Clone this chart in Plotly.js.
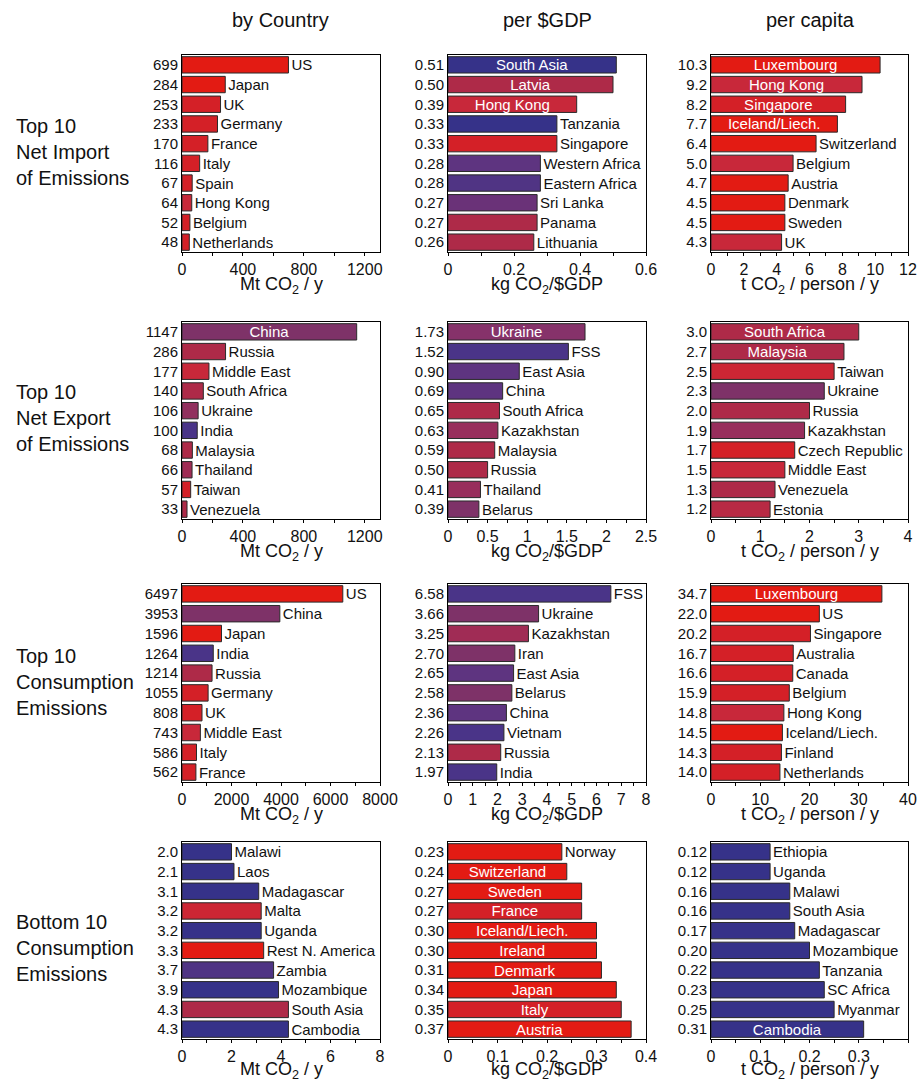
<!DOCTYPE html>
<html>
<head>
<meta charset="utf-8">
<script src="https://cdn.plot.ly/plotly-3.0.1.min.js"></script>
<style>html,body{margin:0;padding:0;background:#fff;}#chart{width:918px;height:1083px;}</style>
</head>
<body>
<div id="chart"></div>
<script>
// ---------------- DATA ----------------
const colTitles = ["by Country", "per $GDP", "per capita"];
const rowTitles = ["Top 10<br>Net Import<br>of Emissions", "Top 10<br>Net Export<br>of Emissions", "Top 10<br>Consumption<br>Emissions", "Bottom 10<br>Consumption<br>Emissions"];
const axisTitles = ["Mt CO<sub>2</sub> / y", "kg CO<sub>2</sub>/$GDP", "t CO<sub>2</sub> / person / y"];

const impCountryNames = ["US","Japan","UK","Germany","France","Italy","Spain","Hong Kong","Belgium","Netherlands"];
const impCountryVals  = [699,284,253,233,170,116,67,64,52,48];
const impGdpNames = ["South Asia","Latvia","Hong Kong","Tanzania","Singapore","Western Africa","Eastern Africa","Sri Lanka","Panama","Lithuania"];
const impGdpVals  = [0.51,0.50,0.39,0.33,0.33,0.28,0.28,0.27,0.27,0.26];
const impCapitaNames = ["Luxembourg","Hong Kong","Singapore","Iceland/Liech.","Switzerland","Belgium","Austria","Denmark","Sweden","UK"];
const impCapitaVals  = [10.3,9.2,8.2,7.7,6.4,5.0,4.7,4.5,4.5,4.3];

const expCountryNames = ["China","Russia","Middle East","South Africa","Ukraine","India","Malaysia","Thailand","Taiwan","Venezuela"];
const expCountryVals  = [1147,286,177,140,106,100,68,66,57,33];
const expGdpNames = ["Ukraine","FSS","East Asia","China","South Africa","Kazakhstan","Malaysia","Russia","Thailand","Belarus"];
const expGdpVals  = [1.73,1.52,0.90,0.69,0.65,0.63,0.59,0.50,0.41,0.39];
const expCapitaNames = ["South Africa","Malaysia","Taiwan","Ukraine","Russia","Kazakhstan","Czech Republic","Middle East","Venezuela","Estonia"];
const expCapitaVals  = [3.0,2.7,2.5,2.3,2.0,1.9,1.7,1.5,1.3,1.2];

const conCountryNames = ["US","China","Japan","India","Russia","Germany","UK","Middle East","Italy","France"];
const conCountryVals  = [6497,3953,1596,1264,1214,1055,808,743,586,562];
const conGdpNames = ["FSS","Ukraine","Kazakhstan","Iran","East Asia","Belarus","China","Vietnam","Russia","India"];
const conGdpVals  = [6.58,3.66,3.25,2.70,2.65,2.58,2.36,2.26,2.13,1.97];
const conCapitaNames = ["Luxembourg","US","Singapore","Australia","Canada","Belgium","Hong Kong","Iceland/Liech.","Finland","Netherlands"];
const conCapitaVals  = [34.7,22.0,20.2,16.7,16.6,15.9,14.8,14.5,14.3,14.0];

const botCountryNames = ["Malawi","Laos","Madagascar","Malta","Uganda","Rest N. America","Zambia","Mozambique","South Asia","Cambodia"];
const botCountryVals  = [2.0,2.1,3.1,3.2,3.2,3.3,3.7,3.9,4.3,4.3];
const botGdpNames = ["Norway","Switzerland","Sweden","France","Iceland/Liech.","Ireland","Denmark","Japan","Italy","Austria"];
const botGdpVals  = [0.23,0.24,0.27,0.27,0.30,0.30,0.31,0.34,0.35,0.37];
const botCapitaNames = ["Ethiopia","Uganda","Malawi","South Asia","Madagascar","Mozambique","Tanzania","SC Africa","Myanmar","Cambodia"];
const botCapitaVals  = [0.12,0.12,0.16,0.16,0.17,0.20,0.22,0.23,0.25,0.31];

// ---------------- STYLE ----------------
const RED='#e31b13', RED2='#d42027', CRIM='#c8283a', ROSE='#ae2a48', MAUVE='#982e5c',
      PLUM='#7e3268', PURP='#5e3480', INDIGO='#4a3488', BLUE='#363289';

const panels = [
  {names:impCountryNames, vals:impCountryVals, dec:0, range:[0,1300], dtick:400, minor:200,
   colors:[RED,RED,RED2,RED2,RED2,RED2,RED2,CRIM,RED2,RED2], inside:[]},
  {names:impGdpNames, vals:impGdpVals, dec:2, range:[0,0.6], dtick:0.2, minor:0.1,
   colors:[BLUE,ROSE,CRIM,BLUE,RED2,PURP,'#503484','#6a3278',ROSE,ROSE], inside:["South Asia","Latvia","Hong Kong"]},
  {names:impCapitaNames, vals:impCapitaVals, dec:1, range:[0,12], dtick:2, minor:1,
   colors:[RED,CRIM,RED2,RED,RED,CRIM,RED,RED,RED,CRIM], inside:["Luxembourg","Hong Kong","Singapore","Iceland/Liech."]},
  {names:expCountryNames, vals:expCountryVals, dec:0, range:[0,1300], dtick:400, minor:200,
   colors:[PLUM,ROSE,CRIM,ROSE,'#92305e',INDIGO,ROSE,'#a02c55',RED2,ROSE], inside:["China"]},
  {names:expGdpNames, vals:expGdpVals, dec:2, range:[0,2.5], dtick:0.5, minor:0.25,
   colors:['#86326a',INDIGO,PURP,PURP,ROSE,MAUVE,ROSE,ROSE,MAUVE,PLUM], inside:["Ukraine"]},
  {names:expCapitaNames, vals:expCapitaVals, dec:1, range:[0,4], dtick:1, minor:0.5,
   colors:[ROSE,ROSE,'#cc2634',PLUM,ROSE,MAUVE,RED2,CRIM,ROSE,'#b82a44'], inside:["South Africa","Malaysia"]},
  {names:conCountryNames, vals:conCountryVals, dec:0, range:[0,8000], dtick:2000, minor:1000,
   colors:[RED,PLUM,RED,INDIGO,ROSE,RED2,RED2,CRIM,RED2,RED2], inside:[]},
  {names:conGdpNames, vals:conGdpVals, dec:2, range:[0,8], dtick:1, minor:0.5,
   colors:[INDIGO,PLUM,'#a02c55',PLUM,PURP,PLUM,PURP,INDIGO,ROSE,INDIGO], inside:[]},
  {names:conCapitaNames, vals:conCapitaVals, dec:1, range:[0,40], dtick:10, minor:5,
   colors:[RED,RED,RED2,RED2,RED2,RED2,CRIM,RED,RED2,RED2], inside:["Luxembourg"]},
  {names:botCountryNames, vals:botCountryVals, dec:1, range:[0,8], dtick:2, minor:1,
   colors:[BLUE,BLUE,BLUE,'#cc2634',BLUE,RED,'#4f3484',BLUE,ROSE,BLUE], inside:[]},
  {names:botGdpNames, vals:botGdpVals, dec:2, range:[0,0.4], dtick:0.1, minor:0.05,
   colors:[RED,RED,RED,RED2,RED,RED,RED,RED,RED2,RED], inside:["Switzerland","Sweden","France","Iceland/Liech.","Ireland","Denmark","Japan","Italy","Austria"]},
  {names:botCapitaNames, vals:botCapitaVals, dec:2, range:[0,0.4], dtick:0.1, minor:0.05,
   colors:[BLUE,BLUE,BLUE,BLUE,BLUE,BLUE,BLUE,BLUE,BLUE,BLUE], inside:["Cambodia"]}
];

// ---------------- LAYOUT ----------------
const W = 918, H = 1083;
const colPx = [[182,380],[448,646],[711,908]];
const rowPx = [[55,252],[322,519],[584,782],[842,1039]];
const titleGap = [21, 21, 21, 19];
const FONT = '"Liberation Sans", Arial, Helvetica, sans-serif';

const data = [];
const layout = {
  width: W, height: H,
  margin: {l:0, r:0, t:0, b:0},
  paper_bgcolor: '#fff', plot_bgcolor: '#fff',
  showlegend: false,
  font: {family: FONT, color: '#111', size: 15},
  bargap: 0.17,
  annotations: []
};

panels.forEach((p, i) => {
  const r = Math.floor(i / 3), c = i % 3;
  const k = i + 1;
  const xa = 'xaxis' + (k === 1 ? '' : k), ya = 'yaxis' + (k === 1 ? '' : k);
  const xr = 'x' + (k === 1 ? '' : k), yr = 'y' + (k === 1 ? '' : k);
  data.push({
    type: 'bar', orientation: 'h',
    x: p.vals, y: p.names,
    xaxis: xr, yaxis: yr,
    marker: {color: p.colors, line: {color: '#2a2a2a', width: 1}},
    text: p.names,
    textposition: p.names.map(n => p.inside.includes(n) ? 'inside' : 'outside'),
    insidetextanchor: 'middle',
    insidetextfont: {color: '#fff', size: 15, family: FONT},
    outsidetextfont: {color: '#111', size: 15, family: FONT},
    constraintext: 'none',
    cliponaxis: false,
    textangle: 0,
    hoverinfo: 'x+y'
  });
  layout[xa] = {
    domain: [colPx[c][0] / W, colPx[c][1] / W],
    anchor: yr,
    range: p.range, dtick: p.dtick, tick0: 0,
    showgrid: false, zeroline: false,
    showline: true, linecolor: '#000', linewidth: 1, mirror: true,
    ticks: 'outside', ticklen: 3, tickcolor: '#000',
    minor: {dtick: p.minor, ticks: 'outside', ticklen: 3, tickcolor: '#000', showgrid: false},
    tickfont: {size: 16, family: FONT, color: '#111'},
    fixedrange: true
  };
  layout[ya] = {
    domain: [1 - rowPx[r][1] / H, 1 - rowPx[r][0] / H],
    anchor: xr,
    type: 'category',
    autorange: 'reversed',
    tickvals: p.names,
    ticktext: p.vals.map(v => v.toFixed(p.dec)),
    ticks: '', showgrid: false, zeroline: false,
    showline: true, linecolor: '#000', linewidth: 1, mirror: true,
    tickfont: {size: 15, family: FONT, color: '#111'},
    fixedrange: true
  };
  // x-axis title placed just below the tick labels
  layout.annotations.push({
    text: axisTitles[c], xref: 'paper', yref: 'paper',
    x: (colPx[c][0] + colPx[c][1]) / 2 / W, y: 1 - (rowPx[r][1] + titleGap[r]) / H,
    xanchor: 'center', yanchor: 'top', showarrow: false, borderpad: 0,
    font: {size: 18, family: FONT, color: '#111'}
  });
});

// column titles
const colCenters = [280, 547, 810];
colTitles.forEach((t, c) => {
  layout.annotations.push({
    text: t, xref: 'paper', yref: 'paper',
    x: colCenters[c] / W, y: 1 - 20 / H,
    xanchor: 'center', yanchor: 'middle', showarrow: false,
    font: {size: 20, family: FONT, color: '#111'}
  });
});
// row titles
const rowCenters = [152, 418, 682, 948];
rowTitles.forEach((t, r) => {
  layout.annotations.push({
    text: t, xref: 'paper', yref: 'paper',
    x: 14 / W, y: 1 - rowCenters[r] / H,
    xanchor: 'left', yanchor: 'middle', align: 'left', showarrow: false,
    font: {size: 20, family: FONT, color: '#111'}
  });
});

Plotly.newPlot('chart', data, layout, {staticPlot: true, displayModeBar: false});
</script>
</body>
</html>
